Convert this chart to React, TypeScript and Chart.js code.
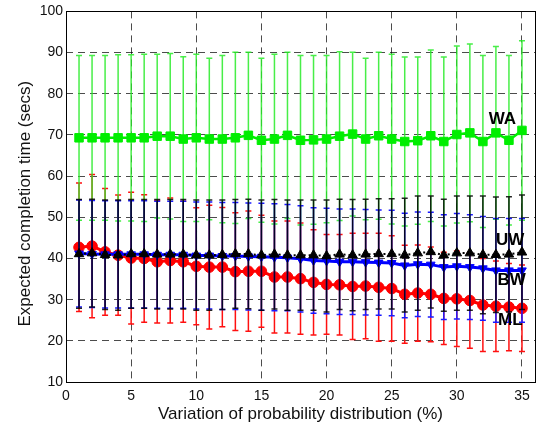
import React, { useEffect, useRef } from "react";
import { Chart, registerables } from "chart.js";

Chart.register(...registerables);

const xValues = [1, 2, 3, 4, 5, 6, 7, 8, 9, 10, 11, 12, 13, 14, 15, 16, 17, 18, 19, 20, 21, 22, 23, 24, 25, 26, 27, 28, 29, 30, 31, 32, 33, 34, 35];

const waMean = [69.3, 69.3, 69.3, 69.3, 69.3, 69.3, 69.7, 69.7, 69.0, 69.3, 69.0, 69.0, 69.3, 69.9, 68.7, 69.0, 69.9, 68.7, 68.8, 69.0, 69.7, 70.2, 69.0, 69.8, 69.0, 68.4, 68.6, 69.8, 68.4, 70.1, 70.5, 68.4, 70.5, 68.7, 71.1];
const waErr = [20.0, 20.0, 20.0, 20.2, 20.2, 20.3, 19.9, 20.1, 20.0, 20.3, 19.6, 20.3, 20.8, 20.2, 19.9, 20.6, 20.2, 20.6, 20.5, 20.3, 20.5, 19.9, 19.6, 20.3, 20.6, 20.5, 20.3, 20.8, 20.5, 21.5, 21.6, 20.9, 21.0, 20.6, 21.8];

const uwMean = [41.1, 41.3, 40.9, 40.8, 41.1, 41.1, 41.0, 41.0, 41.0, 40.8, 40.8, 40.9, 41.1, 41.1, 40.8, 41.0, 40.8, 40.8, 40.8, 40.6, 41.0, 40.8, 41.0, 41.1, 41.1, 40.8, 41.3, 41.6, 40.8, 41.3, 41.3, 40.9, 40.9, 41.0, 41.5];
const uwErr = [13.2, 13.1, 13.3, 13.4, 13.2, 13.2, 13.3, 13.3, 13.3, 13.4, 13.4, 13.3, 13.2, 13.3, 13.4, 13.3, 13.4, 13.4, 13.4, 13.6, 13.4, 13.5, 13.4, 13.4, 13.4, 13.8, 13.9, 13.6, 13.6, 13.9, 13.9, 14.3, 14.0, 14.0, 13.9];

const bwMean = [41.2, 41.1, 41.0, 41.0, 41.0, 41.0, 40.9, 40.9, 40.9, 40.7, 40.7, 40.6, 40.6, 40.5, 40.4, 40.3, 40.2, 39.9, 39.5, 39.4, 39.2, 39.2, 39.1, 39.0, 38.9, 38.3, 38.6, 38.5, 37.9, 38.1, 37.9, 37.6, 37.1, 37.1, 37.1];
const bwErr = [13.0, 13.0, 13.0, 13.0, 13.0, 13.0, 13.0, 13.0, 13.0, 13.0, 13.0, 13.0, 13.0, 13.0, 13.0, 13.0, 12.9, 12.9, 12.8, 12.8, 12.8, 12.8, 12.8, 12.8, 12.8, 12.7, 12.7, 12.7, 12.7, 12.8, 12.7, 12.6, 12.6, 12.6, 12.6];

const mlMean = [42.7, 43.0, 41.6, 40.8, 40.1, 40.0, 39.2, 39.5, 39.2, 38.1, 37.9, 37.9, 36.8, 36.9, 36.9, 35.5, 35.5, 35.1, 34.2, 33.7, 33.6, 33.2, 33.3, 33.0, 32.7, 31.3, 31.6, 31.3, 30.3, 30.2, 29.8, 28.7, 28.4, 28.2, 27.9];
const mlErr = [15.6, 17.4, 15.4, 14.6, 16.0, 15.5, 14.9, 15.2, 14.7, 14.2, 15.0, 14.5, 14.3, 14.6, 13.6, 13.6, 13.6, 13.5, 12.8, 12.1, 12.2, 12.9, 12.8, 13.1, 12.8, 11.9, 11.7, 11.5, 11.2, 11.6, 11.6, 11.3, 11.0, 10.6, 10.5];

const xTicks = [0, 5, 10, 15, 20, 25, 30, 35];
const yTicks = [10, 20, 30, 40, 50, 60, 70, 80, 90, 100];

const seriesNames = ["WA", "UW", "BW", "ML"];
const nameX = [33.5, 34.1, 34.2, 34.1];
const nameY = [73.9, 44.4, 34.6, 25.0];

const yTitle = "Expected completion time (secs)";
const xTitle = "Variation of probability distribution (%)";

const FONT = "'Liberation Sans', Arial, sans-serif";

const toPoints = (ys: number[]) => xValues.map((x, i) => ({ x, y: ys[i] }));

const errorBarPlugin = {
  id: "errorBars",
  beforeDatasetDraw(chart: any, args: any) {
    const ds = chart.data.datasets[args.index];
    const errs: number[] | undefined = ds.errors;
    if (!errs) return;
    const { ctx, scales } = chart;
    const xs = scales.x;
    const ys = scales.y;
    ctx.save();
    ctx.strokeStyle = ds.errorColor;
    ctx.lineWidth = ds.errorWidth;
    ctx.setLineDash([]);
    ctx.beginPath();
    ds.data.forEach((pt: any, i: number) => {
      const px = xs.getPixelForValue(pt.x);
      const yt = ys.getPixelForValue(pt.y + errs[i]);
      const yb = ys.getPixelForValue(pt.y - errs[i]);
      ctx.moveTo(px, yt);
      ctx.lineTo(px, yb);
      ctx.moveTo(px - 3, yt);
      ctx.lineTo(px + 3, yt);
      ctx.moveTo(px - 3, yb);
      ctx.lineTo(px + 3, yb);
    });
    ctx.stroke();
    ctx.restore();
  },
};

const framePlugin = {
  id: "frameAndNames",
  afterDatasetsDraw(chart: any) {
    const { ctx, chartArea, scales } = chart;
    ctx.save();
    ctx.font = `bold 17px ${FONT}`;
    ctx.fillStyle = "#000";
    ctx.textAlign = "center";
    ctx.textBaseline = "middle";
    seriesNames.forEach((n, i) => {
      ctx.fillText(n, scales.x.getPixelForValue(nameX[i]), scales.y.getPixelForValue(nameY[i]));
    });
    ctx.strokeStyle = "#000";
    ctx.lineWidth = 1;
    ctx.setLineDash([]);
    ctx.strokeRect(
      Math.round(chartArea.left) + 0.5,
      Math.round(chartArea.top) + 0.5,
      Math.round(chartArea.right - chartArea.left),
      Math.round(chartArea.bottom - chartArea.top)
    );
    // y axis title
    ctx.font = `17px ${FONT}`;
    ctx.fillStyle = "#111";
    ctx.translate(25, (chartArea.top + chartArea.bottom) / 2 + 7);
    ctx.rotate(-Math.PI / 2);
    ctx.fillText(yTitle, 0, 0);
    ctx.restore();
  },
};

export default function App() {
  const ref = useRef<HTMLCanvasElement | null>(null);

  useEffect(() => {
    if (!ref.current) return;
    const chart = new Chart(ref.current, {
      type: "line",
      data: {
        datasets: [
          {
            label: "UW",
            data: toPoints(uwMean),
            errors: uwErr,
            errorColor: "rgba(0,0,0,0.85)",
            errorWidth: 1.5,
            borderColor: "#000",
            backgroundColor: "#000",
            borderWidth: 2,
            borderDash: [2, 3],
            pointStyle: "triangle",
            pointRadius: 5.5,
            pointBorderWidth: 1,
            tension: 0,
          } as any,
          {
            label: "BW",
            data: toPoints(bwMean),
            errors: bwErr,
            errorColor: "#1a1aff",
            errorWidth: 1.5,
            borderColor: "#0000ff",
            backgroundColor: "#0000ff",
            borderWidth: 3,
            pointStyle: "triangle",
            rotation: 180,
            pointRadius: 5,
            pointBorderWidth: 1,
            tension: 0,
          } as any,
          {
            label: "WA",
            data: toPoints(waMean),
            errors: waErr,
            errorColor: "rgba(40,235,40,0.85)",
            errorWidth: 1.5,
            borderColor: "#00ee00",
            backgroundColor: "#00ee00",
            borderWidth: 2.5,
            pointStyle: "rect",
            pointRadius: 6,
            pointBorderWidth: 1,
            tension: 0,
          } as any,
          {
            label: "ML",
            data: toPoints(mlMean),
            errors: mlErr,
            errorColor: "#ff1010",
            errorWidth: 1.5,
            borderColor: "#ff0000",
            backgroundColor: "#ff0000",
            borderWidth: 3,
            pointStyle: "circle",
            pointRadius: 5.3,
            pointBorderWidth: 1,
            tension: 0,
          } as any,
        ],
      },
      options: {
        responsive: false,
        animation: false,
        devicePixelRatio: 1,
        layout: { padding: { left: 0, right: 4, top: 10, bottom: 0 } },
        plugins: {
          legend: { display: false },
          tooltip: { enabled: false },
        },
        scales: {
          x: {
            type: "linear",
            min: 0,
            max: 36,
            afterBuildTicks: (scale: any) => {
              scale.ticks = xTicks.map((v) => ({ value: v }));
            },
            afterFit: (scale: any) => {
              scale.height = 45;
            },
            grid: { color: "rgba(0,0,0,0.7)", lineWidth: 1, drawTicks: false },
            border: { display: false, dash: [7, 5] },
            ticks: {
              padding: 6,
              color: "#111",
              font: { family: FONT, size: 14 },
            },
            title: {
              display: true,
              text: xTitle,
              color: "#111",
              padding: { top: 0, bottom: 2 },
              font: { family: FONT, size: 17 },
            },
          },
          y: {
            type: "linear",
            min: 10,
            max: 100,
            afterBuildTicks: (scale: any) => {
              scale.ticks = yTicks.map((v) => ({ value: v }));
            },
            afterFit: (scale: any) => {
              scale.width = 66;
            },
            grid: { color: "rgba(0,0,0,0.7)", lineWidth: 1, drawTicks: false },
            border: { display: false, dash: [7, 5] },
            ticks: {
              padding: 3,
              color: "#111",
              font: { family: FONT, size: 14 },
            },
            title: { display: false },
          },
        },
      } as any,
      plugins: [errorBarPlugin, framePlugin],
    });
    return () => chart.destroy();
  }, []);

  return (
    <div style={{ position: "absolute", left: 0, top: 0, width: 542, height: 427, background: "#fff" }}>
      <canvas ref={ref} width={542} height={427} style={{ display: "block" }} />
    </div>
  );
}
